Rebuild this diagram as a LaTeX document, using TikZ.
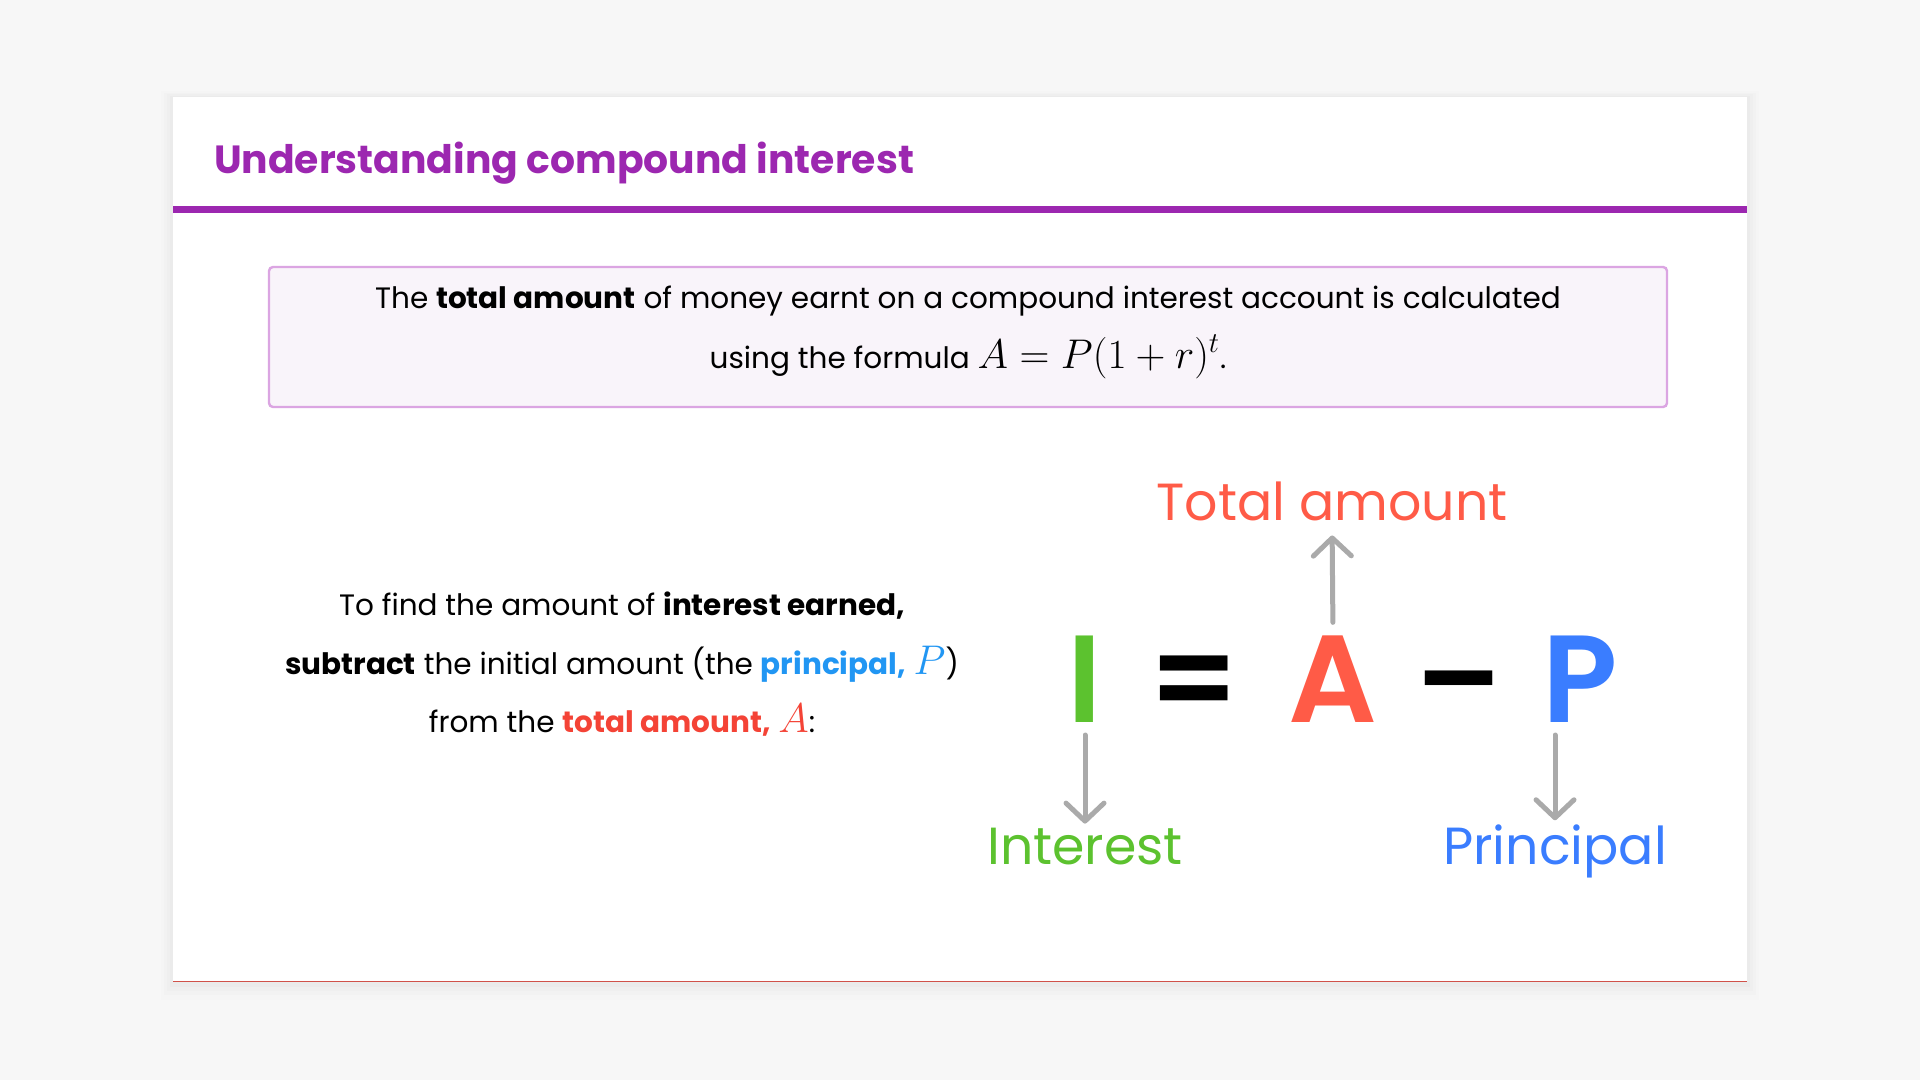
\documentclass[tikz,border=0pt]{standalone}
\usepackage{fontspec}
\setmainfont{Poppins}
\newfontfamily\eqfont{Poppins SemiBold}
\usetikzlibrary{arrows.meta}

\definecolor{bgcol}{HTML}{F7F7F7}
\definecolor{titlepurple}{HTML}{9C27B0}
\definecolor{boxborder}{HTML}{DBA5E2}
\definecolor{boxfill}{HTML}{F9F4FA}
\definecolor{cardline}{HTML}{D0524A}
\definecolor{eqred}{HTML}{FF5B47}
\definecolor{eqgreen}{HTML}{5CC22F}
\definecolor{eqblue}{HTML}{3A7DFF}
\definecolor{txtred}{HTML}{F44336}
\definecolor{txtblue}{HTML}{2196F3}
\definecolor{arrowgray}{HTML}{AAAAAA}

% bigger math inside running text
\newcommand{\bigmath}[1]{{\fontsize{20pt}{24pt}\selectfont$#1$}}

\begin{document}
\begin{tikzpicture}[x=0.5pt, y=-0.5pt,
    every node/.style={inner sep=0pt, outer sep=0pt},
    titletext/.style={font=\bfseries\fontsize{19.65pt}{24pt}\selectfont, text=titlepurple},
    bodytext/.style={font=\fontsize{14.75pt}{18pt}\selectfont, anchor=base},
    eqglyph/.style={font=\eqfont\fontsize{62pt}{70pt}\selectfont, anchor=base},
    eqlabel/.style={font=\fontsize{26.1pt}{32pt}\selectfont, anchor=base},
    pointer/.style={draw=arrowgray, line width=2.5pt, line cap=round,
        -{Straight Barb[length=9pt, width=19pt, line width=2.5pt, round]}}]

    % page background and card with soft shadow
    \fill[bgcol] (0,0) rectangle (1920,1080);
    \useasboundingbox (0,0) rectangle (1920,1080);
    \fill[black, opacity=0.008] (161,91) rectangle (1759,1000);
    \fill[black, opacity=0.010] (164,93) rectangle (1756,995);
    \fill[black, opacity=0.012] (167,94) rectangle (1753,991);
    \fill[black, opacity=0.015] (170,96) rectangle (1750,987);
    \fill[white] (173,97) rectangle (1747,982);
    \draw[cardline, line width=0.6pt] (173,981.5) -- (1747,981.5);

    % Title bar
    \node[titletext, anchor=base west] (title) at (214,174) {Understanding compound interest};
    \fill[titlepurple] (173,206) rectangle (1747,213);

    % Definition box
    \draw[boxborder, fill=boxfill, line width=1.2pt, rounded corners=2pt] (269,267) rectangle (1667,407);
    \node[bodytext] (box_line1) at (968,309) {The \textbf{total amount} of money earnt on a compound interest account is calculated};
    \node[bodytext] (box_line2) at (968,368) {using the formula \bigmath{A = P(1+r)^t}.};

    % Explanation on the left
    \node[bodytext] (find_line1) at (622,615) {To find the amount of \textbf{interest earned,}};
    \node[bodytext] (find_line2) at (622,674) {\textbf{subtract} the initial amount (the {\color{txtblue}\textbf{principal,} \bigmath{P}})};
    \node[bodytext] (find_line3) at (622,732) {from the {\color{txtred}\textbf{total amount,} \bigmath{A}}:};

    % Equation I = A - P
    \node[eqglyph, text=eqgreen] (eq_i) at (1085,722) {I};
    \node[eqglyph] (eq_equals) at (1194,722) {=};
    \node[eqglyph, text=eqred] (eq_a) at (1333,722) {A};
    \node[eqglyph] (eq_minus) at (1459,722) {–};
    \node[eqglyph, text=eqblue] (eq_p) at (1580,722) {P};

    % Labels
    \node[eqlabel, text=eqred] (total_lbl) at (1332,520) {Total amount};
    \node[eqlabel, text=eqgreen] (interest_lbl) at (1085,864) {Interest};
    \node[eqlabel, text=eqblue] (principal_lbl) at (1555,864) {Principal};

    % Pointers
    \draw[pointer, shorten <=6.5pt, shorten >=7.5pt] (eq_a.north) -- (total_lbl.south);
    \draw[pointer, shorten <=6.5pt, shorten >=2pt] (eq_i.south) -- (interest_lbl.north);
    \draw[pointer, shorten <=6.5pt, shorten >=2pt] (eq_p.south -| principal_lbl.north) -- (principal_lbl.north);

\end{tikzpicture}
\end{document}
